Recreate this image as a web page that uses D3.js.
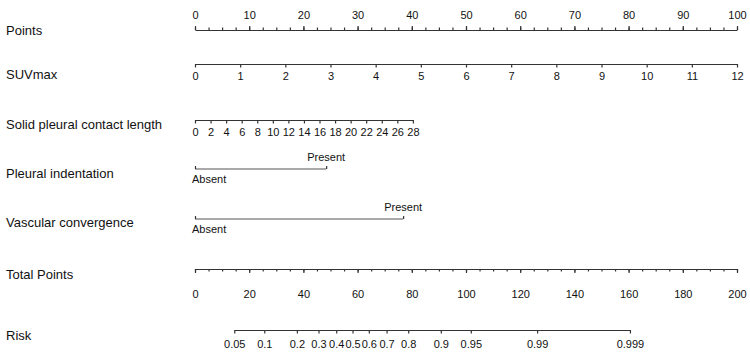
<!DOCTYPE html>
<html lang="en">
<head>
<meta charset="utf-8">
<title>Nomogram</title>
<script src="https://cdn.jsdelivr.net/npm/d3@7"></script>
<style>
  html, body { margin: 0; padding: 0; background: #fff; }
  body { font-family: "Liberation Sans", Arial, sans-serif; }
  .axis text { font-family: "Liberation Sans", Arial, sans-serif; font-size: 11px; fill: #111; }
  .axis path, .axis line { stroke: #333; stroke-width: 1.2; }
  .name { font-size: 13px; fill: #111; }
</style>
</head>
<body>
<script>
// values
let pointsTicks = d3.range(0, 101, 10);
let pointsMinor = d3.range(0, 100.1, 2.5);

let suvTicks = d3.range(0, 13, 1);
let suvMaxPoints = 100;          // SUVmax 12 -> 100 points

let solidTicks = d3.range(0, 29, 2);
let solidMaxPoints = 40.2;       // length 28 -> ~40 points

let pleuralLevels = ["Absent", "Present"];
let pleuralPoints = [0, 24.2];

let vascularLevels = ["Absent", "Present"];
let vascularPoints = [0, 38.4];

let totalTicks = d3.range(0, 201, 20);
let totalMinor = d3.range(0, 200.1, 5);

let riskTicks = [0.05, 0.1, 0.2, 0.3, 0.4, 0.5, 0.6, 0.7, 0.8, 0.9, 0.95, 0.99, 0.999];
// linear predictor = b0 + b1 * total points
let b0 = -3.922;
let b1 = 0.06747;

let w = 750, h = 359;
let svg = d3.select("body").append("svg").attr("width", w).attr("height", h);

let x = d3.scaleLinear().domain([0, 100]).range([195, 737]);
let xTotal = d3.scaleLinear().domain([0, 200]).range([195, 737]);

function name(txt, y) {
  svg.append("text").attr("class", "name").attr("x", 6).attr("y", y).text(txt);
}

// Points
name("Points", 35);
svg.append("g").attr("class", "axis").attr("transform", "translate(0,30)")
  .call(d3.axisTop(x).tickValues(pointsMinor).tickFormat("").tickSize(2.5).tickSizeOuter(0));
svg.append("g").attr("class", "axis").attr("transform", "translate(0,30)")
  .call(d3.axisTop(x).tickValues(pointsTicks).tickSize(4).tickSizeOuter(0).tickPadding(7))
  .call(g => g.select(".domain").remove());

// SUVmax
name("SUVmax", 79);
let xSuv = d3.scaleLinear().domain([0, 12]).range([x(0), x(suvMaxPoints)]);
svg.append("g").attr("class", "axis").attr("transform", "translate(0,64)")
  .call(d3.axisBottom(xSuv).tickValues(suvTicks).tickSize(3.5).tickSizeOuter(0).tickPadding(5));

// Solid pleural contact length
name("Solid pleural contact length", 129);
let xSolid = d3.scaleLinear().domain([0, 28]).range([x(0), x(solidMaxPoints)]);
svg.append("g").attr("class", "axis").attr("transform", "translate(0,120)")
  .call(d3.axisBottom(xSolid).tickValues(solidTicks).tickSize(3.5).tickSizeOuter(0).tickPadding(5));

// categorical axes
function catAxis(label, levels, pts, yName, yLine) {
  name(label, yName);
  let sc = d3.scaleOrdinal().domain(levels).range(pts.map(p => x(p)));
  let g = svg.append("g").attr("class", "axis").attr("transform", "translate(0," + yLine + ")");
  g.call(d3.axisTop(sc).tickSize(3).tickSizeOuter(0).tickFormat(""));
  g.select(".domain").attr("d", "M" + sc(levels[0]) + ",0H" + sc(levels[levels.length - 1]))
    .style("stroke", "#555");
  g.selectAll(".lab").data(levels).enter().append("text")
    .attr("class", "lab")
    .attr("x", (d, i) => i === 0 ? sc(d) - 3 : sc(d))
    .attr("y", (d, i) => i === 0 ? 14 : -8)
    .attr("text-anchor", (d, i) => i === 0 ? "start" : "middle")
    .attr("fill", "#111")
    .text(d => d);
}
catAxis("Pleural indentation", pleuralLevels, pleuralPoints, 178, 169);
catAxis("Vascular convergence", vascularLevels, vascularPoints, 227, 219);

// Total Points
name("Total Points", 279);
svg.append("g").attr("class", "axis").attr("transform", "translate(0,269)")
  .call(d3.axisBottom(xTotal).tickValues(totalMinor).tickFormat("").tickSize(2.5).tickSizeOuter(0));
svg.append("g").attr("class", "axis").attr("transform", "translate(0,269)")
  .call(d3.axisBottom(xTotal).tickValues(totalTicks).tickSize(4).tickSizeOuter(0).tickPadding(17))
  .call(g => g.select(".domain").remove());

// Risk
name("Risk", 340);
let logit = p => Math.log(p / (1 - p));
let tpOf = p => (logit(p) - b0) / b1;
let rLo = riskTicks[0], rHi = riskTicks[riskTicks.length - 1];
let xRisk = d3.scaleLinear().domain([logit(rLo), logit(rHi)]).range([xTotal(tpOf(rLo)), xTotal(tpOf(rHi))]);
let riskByLp = new Map(riskTicks.map(p => [logit(p), p]));
svg.append("g").attr("class", "axis").attr("transform", "translate(0,330)")
  .call(d3.axisBottom(xRisk).tickValues(riskTicks.map(logit)).tickSize(3.5).tickSizeOuter(0).tickPadding(7)
    .tickFormat(v => String(riskByLp.get(v))));
</script>
</body>
</html>
